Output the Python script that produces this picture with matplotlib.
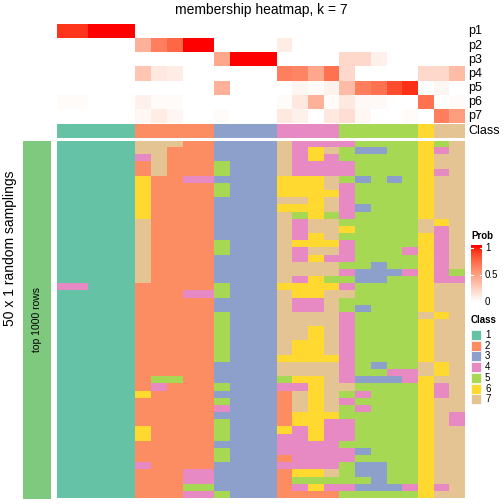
import numpy as np
import matplotlib.pyplot as plt
from matplotlib.colors import ListedColormap
from matplotlib.patches import Rectangle

plt.rcParams['font.family'] = ['Liberation Sans', 'DejaVu Sans']

# class colours (Set2) and labels
class_colors = ["#66C2A5", "#FC8D62", "#8DA0CB", "#E78AC3", "#A6D854", "#FFD92F", "#E5C494"]
class_labels = ["1", "2", "3", "4", "5", "6", "7"]

# consensus class of the 26 samples
sample_class = [1, 1, 1, 1, 1, 2, 2, 2, 2, 2, 3, 3, 3, 3,
                4, 4, 4, 4, 5, 5, 5, 5, 5, 6, 7, 7]

# membership probabilities per class
p1 = [0.92, 0.92, 1, 1, 1, 0, 0, 0, 0, 0, 0, 0, 0, 0, 0, 0, 0, 0, 0, 0, 0, 0, 0, 0, 0, 0]
p2 = [0, 0, 0, 0, 0, 0.4, 0.65, 0.75, 1, 1, 0, 0, 0, 0, 0.1, 0, 0, 0, 0, 0, 0, 0, 0, 0, 0, 0]
p3 = [0, 0, 0, 0, 0, 0, 0, 0, 0, 0, 0.45, 1, 1, 1, 0, 0, 0, 0, 0.2, 0.2, 0.08, 0, 0, 0, 0, 0]
p4 = [0, 0, 0, 0, 0, 0.3, 0.12, 0.1, 0, 0, 0, 0, 0, 0, 0.65, 0.62, 0.45, 0.7, 0.2, 0, 0, 0, 0, 0.2, 0.2, 0.35]
p5 = [0, 0, 0, 0, 0, 0, 0, 0, 0, 0, 0.4, 0, 0, 0, 0, 0.05, 0.02, 0.07, 0.35, 0.65, 0.7, 0.85, 0.93, 0, 0.05, 0]
p6 = [0.02, 0.02, 0, 0, 0, 0.08, 0.02, 0.02, 0, 0, 0, 0, 0, 0, 0.02, 0.12, 0.4, 0.02, 0.12, 0.03, 0.03, 0, 0, 0.7, 0, 0.02]
p7 = [0, 0, 0, 0, 0, 0.04, 0.1, 0.05, 0, 0, 0.02, 0, 0, 0, 0.12, 0.08, 0, 0.12, 0.17, 0.04, 0, 0, 0.02, 0, 0.65, 0.5]
prob_names = ["p1", "p2", "p3", "p4", "p5", "p6", "p7"]

# class assigned in each of the 50 random samplings (one string per sampling)
membership = [
    "11111777223333744445555657",
    "11111772223333746753355647",
    "11111472223333746455555677",
    "11111272225333744445555677",
    "11111272225333744445555647",
    "11111622443333666753535677",
    "11111622225333666745555677",
    "11111622225333666645555677",
    "11111622223333776745555677",
    "11111622223333666743555677",
    "11111622223333756545555677",
    "11111722223333747755555767",
    "11111722223333747765555747",
    "11111722223333746755555647",
    "11111722225333766645555647",
    "11111722225333747745554647",
    "11111722223333746445555647",
    "11111722223333777755355647",
    "11111722223333777743334645",
    "11111722223333746553355644",
    "44111222225333666645555677",
    "11111222445333766775555677",
    "11111222223333744755555677",
    "11111222223333744753555677",
    "11111222225333777745555767",
    "11111222225333777745555677",
    "11111222225333776745555677",
    "11111222225333776745555677",
    "11111222225333766745555677",
    "11111222225333766745555677",
    "11111222225333666645555677",
    "11111222223333777745355767",
    "11111222223333777745544767",
    "11111255223333566743334677",
    "11111242225333446775555647",
    "11111622223333276754555647",
    "11111222225333276745555677",
    "11111222224333276754555677",
    "11111222223333266655555674",
    "11111222225333266445555674",
    "11111622225333646445555677",
    "11111622225333446445555677",
    "11111222223333444455555677",
    "11111222225333444443555677",
    "11111222225333244445555677",
    "11111422223333444453355677",
    "11111222443333266753355677",
    "11111222443333255555355677",
    "11111222553333246443334647",
    "11111222445333222255555677",
]

W = H = 504
fig = plt.figure(figsize=(5.04, 5.04), dpi=100)


def px_axes(x0, y0, x1, y1):
    ax = fig.add_axes([x0 / W, 1 - y1 / H, (x1 - x0) / W, (y1 - y0) / H])
    ax.set_axis_off()
    return ax


def px_text(x, y, s, **kw):
    fig.text(x / W, 1 - y / H, s, **kw)


def lab_ramp(n=256):
    # white -> red interpolated in CIE Lab, like colorRamp2
    t = np.linspace(0, 1, n)
    L = 100 + (53.24 - 100) * t
    a = 80.09 * t
    b = 67.20 * t
    fy = (L + 16) / 116
    fx = fy + a / 500
    fz = fy - b / 200

    def finv(f):
        return np.where(f > 6 / 29, f ** 3, 3 * (6 / 29) ** 2 * (f - 4 / 29))

    xyz = np.stack([0.95047 * finv(fx), finv(fy), 1.08883 * finv(fz)], axis=1)
    m = np.array([[3.2406, -1.5372, -0.4986],
                  [-0.9689, 1.8758, 0.0415],
                  [0.0557, -0.2040, 1.0570]])
    rgb = np.clip(xyz @ m.T, 0, 1)
    rgb = np.where(rgb > 0.0031308, 1.055 * rgb ** (1 / 2.4) - 0.055, 12.92 * rgb)
    rgb = np.clip(rgb, 0, 1)
    rgb[0] = [1, 1, 1]
    rgb[-1] = [1, 0, 0]
    return ListedColormap(rgb)


class_cmap = ListedColormap(class_colors)
prob_cmap = lab_ramp()

# top annotation: probabilities
P = np.array([p1, p2, p3, p4, p5, p6, p7])
ax_p = px_axes(57, 24.3, 465, 123)
ax_p.imshow(P, cmap=prob_cmap, vmin=0, vmax=1, aspect="auto", interpolation="nearest")
for i, name in enumerate(prob_names):
    px_text(468, 31.4 + 14.1 * i, name, fontsize=9, va="center", ha="left")

# class annotation row
ax_c = px_axes(57, 124, 465, 138)
ax_c.imshow([sample_class], cmap=class_cmap, vmin=0.5, vmax=7.5, aspect="auto", interpolation="nearest")
px_text(468, 131, "Class", fontsize=9, va="center", ha="left")

# main body
M = np.array([[int(c) for c in row] for row in membership])
ax_m = px_axes(57, 141, 465, 498.5)
ax_m.imshow(M, cmap=class_cmap, vmin=0.5, vmax=7.5, aspect="auto", interpolation="nearest")

# left bar with row group label
ax_l = px_axes(23, 141, 51, 498.5)
ax_l.add_patch(Rectangle((0, 0), 1, 1, color="#7FC97F", transform=ax_l.transAxes))
ax_l.text(0.5, 0.5, "top 1000 rows", rotation=90, ha="center", va="center",
          fontsize=7.5, transform=ax_l.transAxes)
px_text(10, 248, "50 x 1 random samplings", rotation=90, ha="center", va="center", fontsize=10)

# title
px_text(261, 10, "membership heatmap, k = 7", ha="center", va="center", fontsize=10)

# probability legend
px_text(471, 236, "Prob", fontsize=7, fontweight="bold", ha="left", va="center")
ax_cb = px_axes(471, 245, 482, 303)
grad = np.linspace(1.05, -0.02, 120)[:, None]
ax_cb.imshow(grad, cmap=prob_cmap, vmin=0, vmax=1, aspect="auto",
             extent=[0, 1, -0.02, 1.05])
ax_cb.set_xlim(0, 1)
ax_cb.set_ylim(-0.02, 1.05)
for v in [1, 0.5]:
    ax_cb.plot([0, 0.22], [v, v], color="white", lw=0.8)
    ax_cb.plot([0.78, 1], [v, v], color="white", lw=0.8)
for v, lab in zip([1, 0.5, 0], ["1", "0.5", "0"]):
    px_text(485, 302 - 54.3 * v, lab, fontsize=7, ha="left", va="center")

# class legend
px_text(471, 320, "Class", fontsize=7, fontweight="bold", ha="left", va="center")
for i, (col, lab) in enumerate(zip(class_colors, class_labels)):
    y0 = 330 + 10.7 * i
    fig.patches.append(Rectangle((471 / W, 1 - (y0 + 10) / H), 10 / W, 10 / H,
                                 facecolor=col, edgecolor="white", lw=0.5,
                                 transform=fig.transFigure, figure=fig))
    px_text(485, y0 + 5, lab, fontsize=7, ha="left", va="center")

fig.savefig("out.png", dpi=100)
